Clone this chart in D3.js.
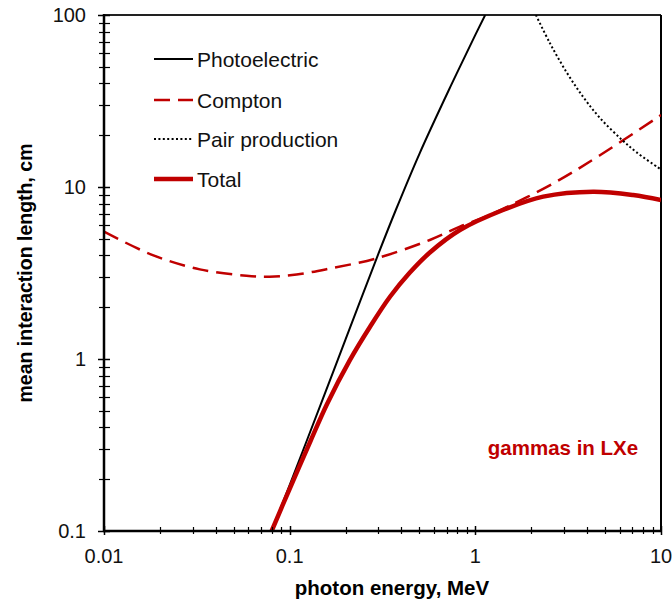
<!DOCTYPE html>
<html>
<head>
<meta charset="utf-8">
<script src="https://cdn.jsdelivr.net/npm/d3@7"></script>
<style>
  html, body { margin: 0; padding: 0; background: #fff; }
  svg { display: block; font-family: "Liberation Sans", Arial, sans-serif; }
</style>
</head>
<body>
<svg id="chart" width="672" height="603"></svg>
<script>
// Mean interaction length of gammas in liquid xenon, by process (cm vs MeV)
const photoE   = [0.08, 0.1, 0.15, 0.2, 0.3, 0.373, 0.5, 0.73, 1.0, 1.13];
const photoV   = [0.1, 0.185, 0.577, 1.30, 4.07, 7.35, 15.6, 37.8, 76.6, 100];

const comptonE = [0.01, 0.0183, 0.0328, 0.0585, 0.078, 0.109, 0.165, 0.294, 0.569, 0.826, 1.25, 2.63, 4.69, 10];
const comptonV = [5.50, 4.02, 3.32, 3.05, 3.01, 3.10, 3.36, 3.85, 4.92, 5.88, 7.03, 10.5, 15.3, 26.2];

const pairE    = [2.12, 2.52, 3.10, 3.80, 4.69, 6.16, 7.39, 9.62, 10];
const pairV    = [100, 68.7, 46.5, 33.5, 25.2, 18.8, 15.9, 13.0, 12.65];

const totalE   = [0.08, 0.1, 0.13, 0.159, 0.211, 0.271, 0.347, 0.444, 0.569, 0.826, 1.41, 2.32, 4.31, 7.08, 10];
const totalV   = [0.1, 0.176, 0.337, 0.548, 0.985, 1.54, 2.30, 3.18, 4.16, 5.62, 7.35, 8.79, 9.39, 8.98, 8.40];

const xTickLabels = ["0.01", "0.1", "1", "10"];
const yTickLabels = ["0.1", "1", "10", "100"];
const seriesNames = ["Photoelectric", "Compton", "Pair production", "Total"];

const RED = "#c00000";
const svg = d3.select("#chart");
const pL = 104, pR = 661, pT = 15, pB = 531;

const x = d3.scaleLog().domain([0.01, 10]).range([pL, pR]);
const y = d3.scaleLog().domain([0.1, 100]).range([pB, pT]);

// log minor ticks 2..9 within each decade
function minors(lo, hi) {
  const out = [];
  for (let d = lo; d < hi * 0.99; d *= 10)
    for (let k = 2; k <= 9; k++) out.push(+(d * k).toPrecision(3));
  return out;
}
const px = v => Math.round(v) + 0.5;

svg.append("defs").append("clipPath").attr("id", "plot")
  .append("rect").attr("x", pL).attr("y", pT)
  .attr("width", pR - pL).attr("height", pB - pT);

// frame (top and right)
svg.append("line").attr("x1", pL).attr("x2", pR).attr("y1", pT).attr("y2", pT)
  .attr("stroke", "#222").attr("stroke-width", 2);
svg.append("line").attr("x1", pR).attr("x2", pR).attr("y1", pT).attr("y2", pB)
  .attr("stroke", "#000").attr("stroke-width", 2);

// curves
const line = d3.line().x(d => x(d[0])).y(d => y(d[1])).curve(d3.curveCatmullRom.alpha(0.5));
const g = svg.append("g").attr("clip-path", "url(#plot)");
const series = [
  { name: seriesNames[1], pts: d3.zip(comptonE, comptonV), stroke: RED, w: 2.5, dash: "16,8" },
  { name: seriesNames[2], pts: d3.zip(pairE, pairV), stroke: "#000", w: 2, dash: "2,2.4" },
  { name: seriesNames[0], pts: d3.zip(photoE, photoV), stroke: "#000", w: 2, dash: null },
  { name: seriesNames[3], pts: d3.zip(totalE, totalV), stroke: RED, w: 4.5, dash: null }
];
series.forEach(s => {
  g.append("path").datum(s.pts).attr("d", line)
    .attr("fill", "none").attr("stroke", s.stroke).attr("stroke-width", s.w)
    .attr("stroke-dasharray", s.dash).attr("stroke-linejoin", "round");
});

// y axis
const yAxis = svg.append("g");
yAxis.append("line").attr("x1", pL).attr("x2", pL).attr("y1", pT - 1).attr("y2", pB + 1)
  .attr("stroke", "#000").attr("stroke-width", 2.5);
yAxis.selectAll("line.minor").data(minors(0.1, 100)).join("line").attr("class", "minor")
  .attr("x1", pL - 5).attr("x2", pL + 6).attr("y1", d => px(y(d))).attr("y2", d => px(y(d)))
  .attr("stroke", "#000").attr("stroke-width", 1.2);
yAxis.selectAll("line.major").data(yTickLabels).join("line").attr("class", "major")
  .attr("x1", pL - 6).attr("x2", pL + 6).attr("y1", d => px(y(+d))).attr("y2", d => px(y(+d)))
  .attr("stroke", "#000").attr("stroke-width", 1.5);
yAxis.selectAll("text").data(yTickLabels).join("text")
  .attr("x", 86).attr("y", d => y(+d)).attr("dy", "0.36em")
  .attr("text-anchor", "end").attr("font-size", 20).attr("fill", "#111").text(d => d);

// x axis
const xAxis = svg.append("g");
xAxis.append("line").attr("x1", pL - 1).attr("x2", pR + 1).attr("y1", pB).attr("y2", pB)
  .attr("stroke", "#000").attr("stroke-width", 2.5);
xAxis.selectAll("line.minor").data(minors(0.01, 10)).join("line").attr("class", "minor")
  .attr("x1", d => px(x(d))).attr("x2", d => px(x(d))).attr("y1", pB - 4).attr("y2", pB + 3)
  .attr("stroke", "#000").attr("stroke-width", 1.2);
xAxis.selectAll("line.major").data(xTickLabels).join("line").attr("class", "major")
  .attr("x1", d => px(x(+d))).attr("x2", d => px(x(+d))).attr("y1", pB - 5).attr("y2", pB + 4)
  .attr("stroke", "#000").attr("stroke-width", 1.5);
xAxis.selectAll("text").data(xTickLabels).join("text")
  .attr("x", d => x(+d)).attr("y", 563)
  .attr("text-anchor", "middle").attr("font-size", 20).attr("fill", "#111").text(d => d);

// axis titles
svg.append("text").attr("x", 392).attr("y", 595)
  .attr("text-anchor", "middle").attr("font-size", 20.5).attr("font-weight", "bold")
  .text("photon energy, MeV");
svg.append("text").attr("transform", `translate(32,${(pT + pB) / 2}) rotate(-90)`)
  .attr("text-anchor", "middle").attr("font-size", 19.5).attr("font-weight", "bold")
  .text("mean interaction length, cm");

// legend
const legendRows = [59, 100, 139, 179];
const legendOrder = [0, 1, 2, 3].map(i => series.find(s => s.name === seriesNames[i]));
const lg = svg.append("g");
legendOrder.forEach((s, i) => {
  lg.append("line").attr("x1", 154).attr("x2", 193).attr("y1", legendRows[i]).attr("y2", legendRows[i])
    .attr("stroke", s.stroke).attr("stroke-width", s.w).attr("stroke-dasharray", s.dash);
  lg.append("text").attr("x", 197).attr("y", legendRows[i] + 7.5)
    .attr("font-size", 21).attr("fill", "#111").text(s.name);
});

// annotation
svg.append("text").attr("x", 563).attr("y", 455).attr("text-anchor", "middle")
  .attr("font-size", 20.5).attr("font-weight", "bold").attr("fill", RED)
  .text("gammas in LXe");
</script>
</body>
</html>
